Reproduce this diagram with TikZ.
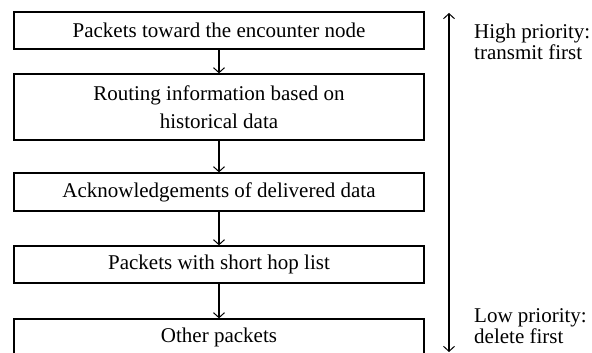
\documentclass[tikz,border=0pt]{standalone}
\usepackage{fontspec}
\setmainfont{Liberation Serif}
\usetikzlibrary{arrows.meta}
\begin{document}
\begin{tikzpicture}[x=1pt,y=1pt,
  tip/.tip={Straight Barb[length=5pt,width=11pt,line width=1pt]},
  box/.style={draw, line width=1.3pt, minimum width=410pt, inner sep=0pt,
    align=center, font=\fontsize{21}{28}\selectfont},
  flow/.style={line width=1.1pt, -tip},
  lbl/.style={align=left, inner sep=0pt, anchor=base west, font=\fontsize{21}{21}\selectfont}]
\useasboundingbox (0,0) rectangle (592,-353);
\node[box, minimum height=37pt] (b1) at (219,-30.5) {Packets toward the encounter node};
\node[box, minimum height=66pt] (b2) at (219,-107) {Routing information based on\\historical data};
\node[box, minimum height=38pt] (b3) at (219,-192) {Acknowledgements of delivered data};
\node[box, minimum height=37pt] (b4) at (219,-264.5) {Packets with short hop list};
\node[box, minimum height=37pt] (b5) at (219,-337.5) {Other packets};
\draw[flow] (b1) -- (b2);
\draw[flow] (b2) -- (b3);
\draw[flow] (b3) -- (b4);
\draw[flow] (b4) -- (b5);
\coordinate (top) at (449,-13);
\coordinate (bot) at (449,-352);
\draw[line width=1.1pt, tip-tip] (top) -- (bot);
\node[lbl] (hi) at (474,-60) {High priority:\\transmit first};
\node[lbl] (lo) at (474,-343) {Low priority:\\delete first};
\end{tikzpicture}
\end{document}
